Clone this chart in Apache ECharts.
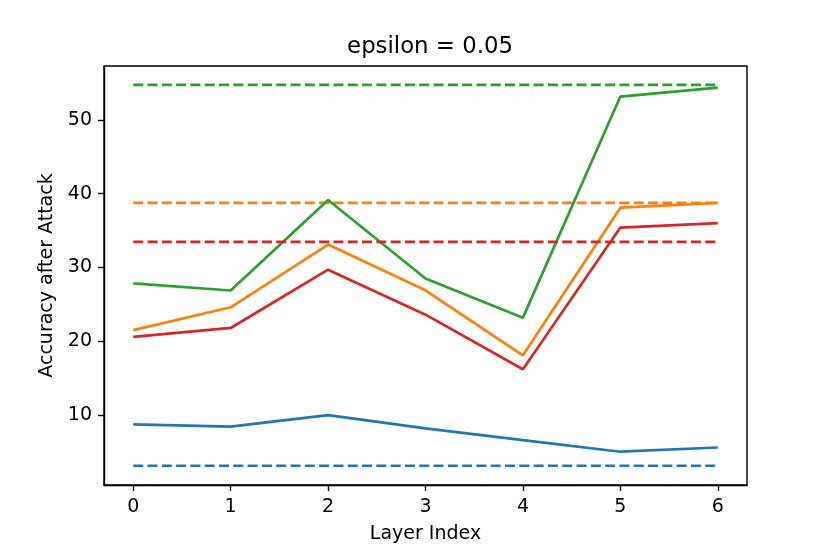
<!DOCTYPE html>
<html>
<head>
<meta charset="utf-8">
<script src="https://cdn.jsdelivr.net/npm/echarts@6/dist/echarts.min.js"></script>
<style>
  html, body { margin: 0; padding: 0; background: #fff; }
  #chart { width: 830px; height: 554px; }
</style>
</head>
<body>
<div id="chart"></div>
<script>
// layer index on x, accuracy after attack on y
var layers = [0, 1, 2, 3, 4, 5, 6];
var yTicks = [10, 20, 30, 40, 50];

var blueVals = [8.74, 8.42, 10.0, 8.2, 6.6, 5.03, 5.6];
var orangeVals = [21.5, 24.6, 33.1, 26.9, 18.1, 38.1, 38.75];
var greenVals = [27.83, 26.88, 39.15, 28.5, 23.2, 53.16, 54.38];
var redVals = [20.6, 21.8, 29.7, 23.6, 16.2, 35.4, 36.0];

// flat reference levels (dashed)
var blueBase = 3.13;
var orangeBase = 38.75;
var greenBase = 54.75;
var redBase = 33.46;

var colors = ['#1f77b4', '#ff7f0e', '#2ca02c', '#d62728'];

function pairs(vals) {
  var out = [];
  for (var i = 0; i < layers.length; i++) {
    out.push([layers[i], vals[i]]);
  }
  return out;
}
function flat(v) {
  var out = [];
  for (var i = 0; i < layers.length; i++) {
    out.push([layers[i], v]);
  }
  return out;
}
function line(vals, color, dashed) {
  return {
    type: 'line',
    data: vals,
    showSymbol: false,
    symbol: 'none',
    lineStyle: { color: color, width: 2.7, type: dashed ? [10, 4.3] : 'solid', cap: 'butt' },
    itemStyle: { color: color }
  };
}

var chart = echarts.init(document.getElementById('chart'));
chart.setOption({
  animation: false,
  backgroundColor: '#fff',
  textStyle: { fontFamily: 'DejaVu Sans' },
  title: {
    text: 'epsilon = 0.05',
    left: 425,
    textAlign: 'center',
    top: 31,
    textStyle: { fontFamily: 'DejaVu Sans', fontSize: 22.8, fontWeight: 'normal', color: '#000' }
  },
  grid: {
    left: 104, right: 83, top: 66, bottom: 69,
    show: true, borderColor: '#000', borderWidth: 1.4
  },
  xAxis: {
    type: 'value',
    min: -0.3, max: 6.3,
    name: 'Layer Index',
    nameLocation: 'middle',
    nameGap: 40,
    nameTextStyle: { fontFamily: 'DejaVu Sans', fontSize: 19, color: '#000' },
    axisLine: { show: true, onZero: false, lineStyle: { color: '#000', width: 1.4 } },
    axisTick: { show: true, length: 6, customValues: layers, lineStyle: { color: '#000', width: 1.4 } },
    axisLabel: { customValues: layers, margin: 13, fontFamily: 'DejaVu Sans', fontSize: 19, color: '#000' },
    splitLine: { show: false }
  },
  yAxis: {
    type: 'value',
    min: 0.52, max: 57.3,
    name: 'Accuracy after Attack',
    nameLocation: 'middle',
    nameGap: 44,
    nameTextStyle: { fontFamily: 'DejaVu Sans', fontSize: 19, color: '#000' },
    axisLine: { show: true, onZero: false, lineStyle: { color: '#000', width: 1.4 } },
    axisTick: { show: true, length: 6, customValues: yTicks, lineStyle: { color: '#000', width: 1.4 } },
    axisLabel: { customValues: yTicks, margin: 12, fontFamily: 'DejaVu Sans', fontSize: 19, color: '#000' },
    splitLine: { show: false }
  },
  series: [
    line(pairs(blueVals), colors[0], false),
    line(flat(blueBase), colors[0], true),
    line(pairs(orangeVals), colors[1], false),
    line(flat(orangeBase), colors[1], true),
    line(pairs(greenVals), colors[2], false),
    line(flat(greenBase), colors[2], true),
    line(pairs(redVals), colors[3], false),
    line(flat(redBase), colors[3], true)
  ]
});
</script>
</body>
</html>
